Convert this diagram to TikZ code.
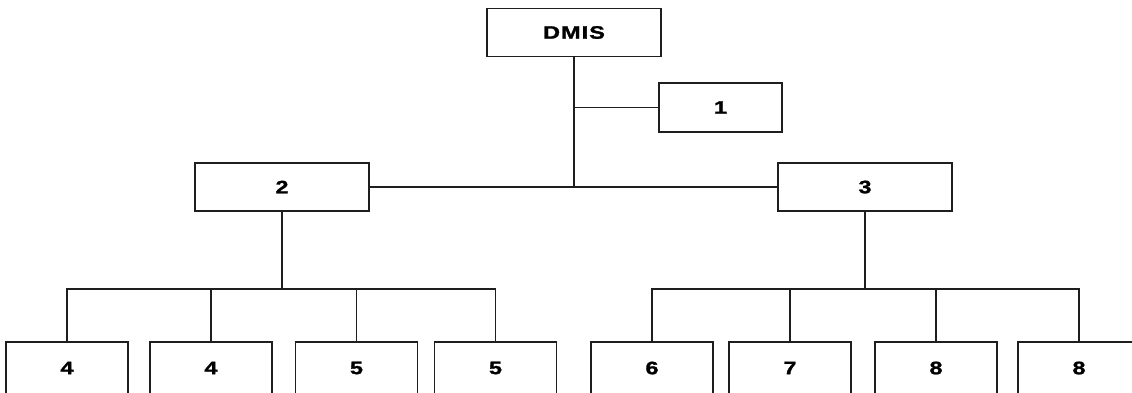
\documentclass[tikz,border=0pt]{standalone}
\usepackage{fontspec}
\newfontfamily\lblfont{Liberation Sans}[UprightFont={* Bold},FakeStretch=1.3,LetterSpace=6,FakeBold=1.5]
\usetikzlibrary{calc}
\definecolor{ink}{HTML}{1E1E1E}
\tikzset{
  box/.style={draw=ink, line width=1.6pt, rectangle, inner sep=0pt,
    font=\lblfont\fontsize{18}{18}\selectfont, text=black},
  topbox/.style={box, minimum width=174pt, minimum height=48pt},
  smallbox/.style={box, minimum width=123pt, minimum height=49pt},
  leafbox/.style={box, minimum width=122pt, minimum height=52pt},
  conn/.style={draw=ink, line width=1.6pt}
}
\begin{document}
\begin{tikzpicture}[x=1pt, y=-1pt]
\clip (0,0) rectangle (1132,392);
\fill[white] (0,0) rectangle (1132,392);
% nodes
\node[topbox] (dmis) at (574,32.5) {DMIS};
\node[smallbox] (n1) at (720.5,107.5) {1};
\node[topbox] (n2) at (282,187) {2};
\node[topbox] (n3) at (865,187) {3};
\node[leafbox] (a1) at (67,368) {4};
\node[leafbox] (a2) at (211,368) {4};
\node[leafbox] (a3) at (356.5,368) {5};
\node[leafbox] (a4) at (495.5,368) {5};
\node[leafbox] (b1) at (652,368) {6};
\node[leafbox] (b2) at (790,368) {7};
\node[leafbox] (b3) at (936,368) {8};
\node[leafbox] (b4) at (1079,368) {8};
\coordinate (bus) at (0,289);
% connectors
\draw[conn] (dmis.south) -- (dmis.south |- n2.east);
\draw[conn] (dmis.south |- n1.west) -- (n1.west);
\draw[conn] (n2.east) -- (n3.west);
\draw[conn] (n2.south) -- (n2.south |- bus);
\draw[conn] (n3.south) -- (n3.south |- bus);
\draw[conn] (a1.north) |- (a4.north |- bus) -- (a4.north);
\draw[conn] (a2.north) -- (a2.north |- bus);
\draw[conn] (a3.north) -- (a3.north |- bus);
\draw[conn] (b1.north) |- (b4.north |- bus) -- (b4.north);
\draw[conn] (b2.north) -- (b2.north |- bus);
\draw[conn] (b3.north) -- (b3.north |- bus);
\end{tikzpicture}
\end{document}
